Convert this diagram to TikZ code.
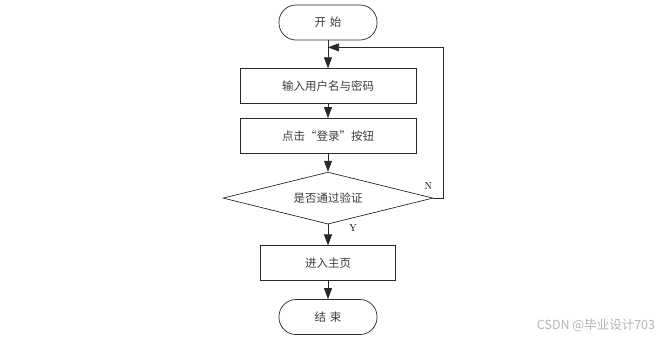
\documentclass[tikz,border=0pt]{standalone}
\usepackage{fontspec}
\newfontfamily\cjk{Noto Sans CJK SC}
\usetikzlibrary{positioning,calc,arrows.meta,shapes.geometric}
\definecolor{edgeDark}{RGB}{40,40,40}
\definecolor{textDark}{RGB}{60,60,60}
\definecolor{markGray}{RGB}{180,180,180}

\begin{document}
\begin{tikzpicture}[x=1pt,y=-1pt,
  font=\cjk\fontsize{11.5}{13}\selectfont,
  term/.style={draw=edgeDark,rounded corners=17pt,minimum width=98pt,
               minimum height=35pt,line width=0.7pt,text=textDark},
  proc/.style={draw=edgeDark,minimum width=176pt,minimum height=35pt,
               line width=0.7pt,text=textDark},
  decision/.style={draw=edgeDark,diamond,aspect=4,inner sep=0pt,
                   minimum width=210pt,minimum height=52pt,line width=0.7pt,
                   text=textDark},
  tr/.style={-{Triangle[length=11pt,width=8pt]},line width=0.7pt,draw=edgeDark},
  lbl/.style={font=\rmfamily\fontsize{10}{12}\selectfont,inner sep=1pt}
]
\useasboundingbox (0,0) rectangle (666,340);

% ==========  main column  ==========
\node[term] (start) at (328,22.5) {开\,\,始};
\node[proc,below=28pt of start] (input) {输入用户名与密码};
\node[proc,below=14pt of input] (login) {点击“登录”按钮};
\node[decision,below=18pt of login] (check) {是否通过验证};
\node[proc,minimum width=135pt,below=21pt of check] (home) {进入主页};
\node[term,below=18pt of home] (stop) {结\,\,束};

% join point of the retry loop
\coordinate (join) at ($(start.south)+(0,7)$);

% ==========  transitions  ==========
\draw[tr] (start) -- (input);
\draw[tr] (input) -- (login);
\draw[tr] (login) -- (check);
\draw[tr] (check) -- node[lbl,pos=0.15,right=20pt]{Y} (home);
\draw[tr] (home) -- (stop);

% failed check goes back up
\draw[tr] (check.east) -- ++(10,0) |- (join);
\node[lbl,above left=7pt and 0pt of check.east] (no) {N};

% watermark
\node[font=\cjk\fontsize{12.5}{14}\selectfont,text=markGray] (mark) at (596,325)
  {CSDN @毕业设计703};

\end{tikzpicture}
\end{document}
